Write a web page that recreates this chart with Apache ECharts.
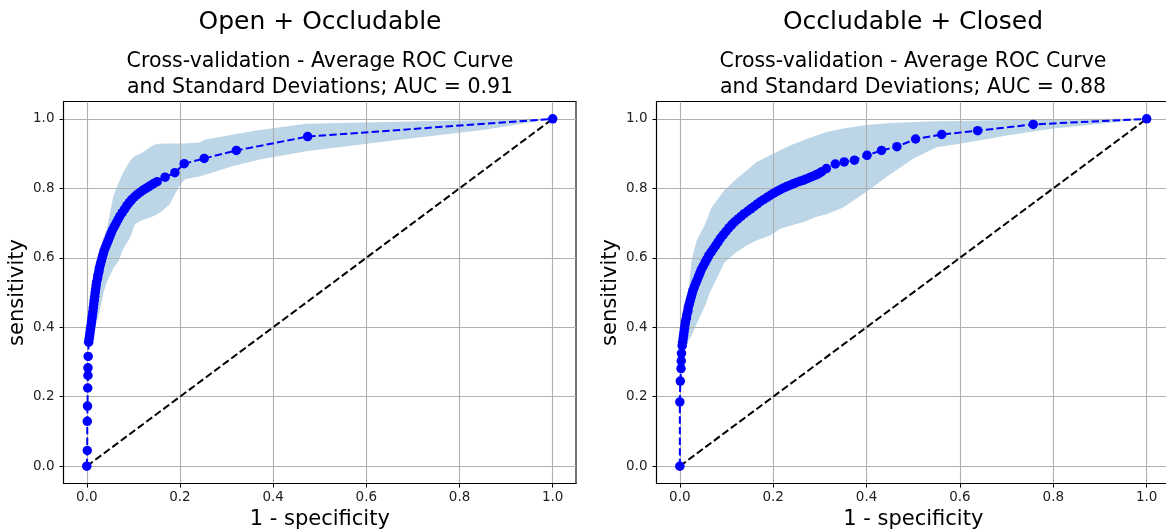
<!DOCTYPE html>
<html><head><meta charset="utf-8">
<script src="https://cdn.jsdelivr.net/npm/echarts@6/dist/echarts.min.js"></script>
<style>html,body{margin:0;padding:0;background:#fff;overflow:hidden}#c{width:1166px;height:532px}</style>
</head><body><div id="c"></div>
<script>
const panelTitles = ['Open + Occludable', 'Occludable + Closed'];
const panelSubtitles = [
  'Cross-validation - Average ROC Curve\nand Standard Deviations; AUC = 0.91',
  'Cross-validation - Average ROC Curve\nand Standard Deviations; AUC = 0.88'
];
const xAxisName = '1 - specificity';
const yAxisName = 'sensitivity';
const tickValues = [0, 0.2, 0.4, 0.6, 0.8, 1.0];
const tickLabels = ['0.0', '0.2', '0.4', '0.6', '0.8', '1.0'];
const chanceLine = [[0, 0], [1, 1]];

// Left panel: mean ROC (1 - specificity, sensitivity)
const leftRocX = [0, 0.001, 0.001, 0.0015, 0.002, 0.0025, 0.0025, 0.003,
  0.004, 0.005, 0.006, 0.007, 0.008, 0.009, 0.010, 0.011, 0.012, 0.013, 0.014, 0.015, 0.016, 0.017, 0.018, 0.019, 0.020, 0.021,
  0.023, 0.024, 0.026, 0.027, 0.029, 0.031, 0.033, 0.035, 0.037, 0.040, 0.043, 0.046, 0.049, 0.052, 0.055, 0.059, 0.063, 0.067,
  0.071, 0.076, 0.081, 0.086, 0.091, 0.096, 0.102, 0.108, 0.114, 0.120, 0.126, 0.132, 0.138, 0.144,
  0.151, 0.168, 0.189, 0.209, 0.252, 0.321, 0.474, 1.0];
const leftRocY = [0, 0.045, 0.129, 0.173, 0.225, 0.261, 0.283, 0.316,
  0.357, 0.366, 0.375, 0.385, 0.395, 0.405, 0.415, 0.425, 0.435, 0.445, 0.456, 0.467, 0.478, 0.489, 0.500, 0.510, 0.520, 0.530,
  0.540, 0.550, 0.560, 0.570, 0.580, 0.590, 0.600, 0.610, 0.620, 0.630, 0.640, 0.650, 0.660, 0.670, 0.680, 0.690, 0.700, 0.710,
  0.720, 0.730, 0.740, 0.750, 0.759, 0.767, 0.775, 0.782, 0.788, 0.794, 0.799, 0.804, 0.809, 0.814,
  0.819, 0.832, 0.845, 0.871, 0.886, 0.909, 0.949, 1.0];
// Left panel: standard-deviation band
const leftBandX = [0.003, 0.007, 0.012, 0.018, 0.025, 0.036, 0.043, 0.050, 0.057, 0.068, 0.078, 0.093, 0.103, 0.118, 0.136, 0.146, 0.157, 0.178, 0.189, 0.200, 0.211, 0.243, 0.253, 0.314, 0.371, 0.471, 0.671, 0.85, 1.0];
const leftBandLow = [0.33, 0.35, 0.37, 0.40, 0.43, 0.50, 0.53, 0.55, 0.57, 0.59, 0.625, 0.658, 0.696, 0.708, 0.716, 0.722, 0.730, 0.754, 0.783, 0.810, 0.826, 0.835, 0.838, 0.864, 0.883, 0.907, 0.940, 0.968, 1.0];
const leftBandHigh = [0.36, 0.414, 0.46, 0.51, 0.605, 0.66, 0.682, 0.730, 0.778, 0.815, 0.845, 0.880, 0.893, 0.902, 0.918, 0.926, 0.928, 0.929, 0.929, 0.929, 0.929, 0.932, 0.940, 0.955, 0.968, 0.986, 0.992, 0.997, 1.0];

// Right panel: mean ROC
const rightRocX = [0, 0, 0.001, 0.0025, 0.003, 0.0035,
  0.005, 0.006, 0.007, 0.008, 0.009, 0.010, 0.011, 0.012, 0.014, 0.015, 0.017, 0.018, 0.020, 0.022, 0.024, 0.026, 0.028, 0.031,
  0.034, 0.037, 0.040, 0.043, 0.046, 0.050, 0.054, 0.058, 0.062, 0.067, 0.072, 0.077, 0.082, 0.087, 0.093, 0.099, 0.105, 0.111,
  0.117, 0.124, 0.131, 0.138, 0.145, 0.152, 0.159, 0.166, 0.173, 0.180, 0.187, 0.194, 0.201, 0.208, 0.215, 0.222, 0.229, 0.236,
  0.243, 0.250, 0.257, 0.264, 0.271, 0.278, 0.285, 0.292, 0.298, 0.304,
  0.314, 0.333, 0.352, 0.374, 0.401, 0.432, 0.465, 0.505, 0.561, 0.638, 0.757, 1.0];
const rightRocY = [0, 0.185, 0.245, 0.281, 0.303, 0.325,
  0.347, 0.357, 0.367, 0.377, 0.387, 0.397, 0.407, 0.416, 0.426, 0.436, 0.446, 0.456, 0.466, 0.476, 0.486, 0.496, 0.506, 0.516,
  0.526, 0.536, 0.546, 0.556, 0.566, 0.576, 0.586, 0.596, 0.606, 0.616, 0.626, 0.636, 0.646, 0.656, 0.666, 0.676, 0.686, 0.695,
  0.703, 0.711, 0.719, 0.727, 0.734, 0.741, 0.748, 0.755, 0.762, 0.768, 0.774, 0.780, 0.786, 0.791, 0.796, 0.801, 0.805, 0.809,
  0.813, 0.817, 0.820, 0.823, 0.827, 0.831, 0.835, 0.839, 0.843, 0.848,
  0.857, 0.870, 0.876, 0.881, 0.895, 0.909, 0.920, 0.942, 0.955, 0.966, 0.984, 1.0];
// Right panel: standard-deviation band
const rightBandX = [0.003, 0.01, 0.018, 0.025, 0.036, 0.050, 0.055, 0.064, 0.068, 0.086, 0.096, 0.121, 0.143, 0.164, 0.193, 0.207, 0.214, 0.236, 0.264, 0.271, 0.293, 0.314, 0.35, 0.40, 0.45, 0.50, 0.55, 0.60, 0.65, 0.70, 0.75, 0.80, 0.90, 1.0];
const rightBandLow = [0.30, 0.33, 0.36, 0.376, 0.41, 0.45, 0.465, 0.50, 0.51, 0.56, 0.587, 0.616, 0.635, 0.650, 0.664, 0.676, 0.683, 0.692, 0.702, 0.706, 0.718, 0.725, 0.745, 0.79, 0.84, 0.885, 0.918, 0.928, 0.940, 0.952, 0.962, 0.972, 0.986, 1.0];
const rightBandHigh = [0.36, 0.43, 0.496, 0.592, 0.65, 0.686, 0.70, 0.731, 0.745, 0.777, 0.795, 0.827, 0.851, 0.875, 0.895, 0.904, 0.909, 0.923, 0.938, 0.942, 0.952, 0.962, 0.972, 0.982, 0.988, 0.991, 0.993, 0.994, 0.995, 0.997, 0.998, 0.999, 1.0, 1.0];

const panels = [
  {rocX: leftRocX, rocY: leftRocY, bandX: leftBandX, lo: leftBandLow, hi: leftBandHigh},
  {rocX: rightRocX, rocY: rightRocY, bandX: rightBandX, lo: rightBandLow, hi: rightBandHigh}
];

const FONT = 'DejaVu Sans';
const grids = [
  {left: 63.5, top: 101.5, width: 512.5, height: 382},
  {left: 656.5, top: 101.5, width: 513.5, height: 382}
];

function tickFmt(v) {
  const i = tickValues.findIndex(t => Math.abs(t - v) < 1e-9);
  return i >= 0 ? tickLabels[i] : '';
}

const option = {
  backgroundColor: '#ffffff',
  animation: false,
  textStyle: {fontFamily: FONT},
  grid: grids.map(g => Object.assign({show: true, borderColor: '#000', borderWidth: 1.1, backgroundColor: 'transparent', containLabel: false, outerBoundsMode: 'none'}, g)),
  xAxis: grids.map((g, i) => ({
    type: 'value', gridIndex: i, min: -0.05, max: 1.05, z: 3,
    name: xAxisName, nameLocation: 'middle', nameGap: 23,
    nameTextStyle: {fontFamily: FONT, fontSize: 21, color: '#000'},
    axisLine: {show: true, onZero: false, lineStyle: {color: '#000', width: 1.1}},
    axisTick: {show: true, customValues: tickValues, length: 4, lineStyle: {color: '#000', width: 1}},
    axisLabel: {customValues: tickValues, formatter: tickFmt, margin: 7, fontFamily: FONT, fontSize: 13.5, color: '#222'},
    splitLine: {show: true, lineStyle: {color: '#b0b0b0', width: 1.1}}
  })),
  yAxis: grids.map((g, i) => ({
    type: 'value', gridIndex: i, min: -0.05, max: 1.05, z: 3,
    name: yAxisName, nameLocation: 'middle', nameGap: 35,
    nameTextStyle: {fontFamily: FONT, fontSize: 21, color: '#000'},
    axisLine: {show: true, onZero: false, lineStyle: {color: '#000', width: 1.1}},
    axisTick: {show: true, customValues: tickValues, length: 4, lineStyle: {color: '#000', width: 1}},
    axisLabel: {customValues: tickValues, formatter: tickFmt, margin: 9, fontFamily: FONT, fontSize: 13.5, color: '#222'},
    splitLine: {show: true, lineStyle: {color: '#b0b0b0', width: 1.1}}
  })),
  graphic: panelTitles.flatMap((t, i) => {
    const cx = grids[i].left + 256.5;
    return [
      {type: 'text', x: cx, y: 22, style: {text: t, font: '25px "DejaVu Sans"', fill: '#000', textAlign: 'center', textVerticalAlign: 'middle'}},
      {type: 'text', x: cx, y: 74.5, style: {text: panelSubtitles[i], font: '20.5px "DejaVu Sans"', lineHeight: 25.5, fill: '#000', textAlign: 'center', textVerticalAlign: 'middle'}}
    ];
  }),
  series: panels.flatMap((p, i) => [
    {
      type: 'custom', xAxisIndex: i, yAxisIndex: i, z: 1, silent: true, clip: true,
      data: [[p.bandX[0], p.lo[0]]],
      renderItem: function (params, api) {
        const pts = [];
        for (let k = 0; k < p.bandX.length; k++) pts.push(api.coord([p.bandX[k], p.hi[k]]));
        for (let k = p.bandX.length - 1; k >= 0; k--) pts.push(api.coord([p.bandX[k], p.lo[k]]));
        return {type: 'polygon', shape: {points: pts}, style: {fill: '#bcd6e8', stroke: null}};
      }
    },
    {
      type: 'line', xAxisIndex: i, yAxisIndex: i, z: 4, silent: true,
      data: chanceLine, showSymbol: false, symbol: 'none',
      lineStyle: {color: '#000', width: 2, type: [7.4, 3.2]}
    },
    {
      type: 'line', xAxisIndex: i, yAxisIndex: i, z: 5, silent: true,
      data: p.rocX.map((x, k) => [x, p.rocY[k]]),
      symbol: 'circle', symbolSize: 9.5, showAllSymbol: true,
      itemStyle: {color: '#0000ff', borderWidth: 0},
      lineStyle: {color: '#0000ff', width: 2, type: [7.4, 3.2]}
    }
  ])
};

const chart = echarts.init(document.getElementById('c'), null, {renderer: 'canvas', width: 1166, height: 532});
chart.setOption(option);
</script>
</body></html>
